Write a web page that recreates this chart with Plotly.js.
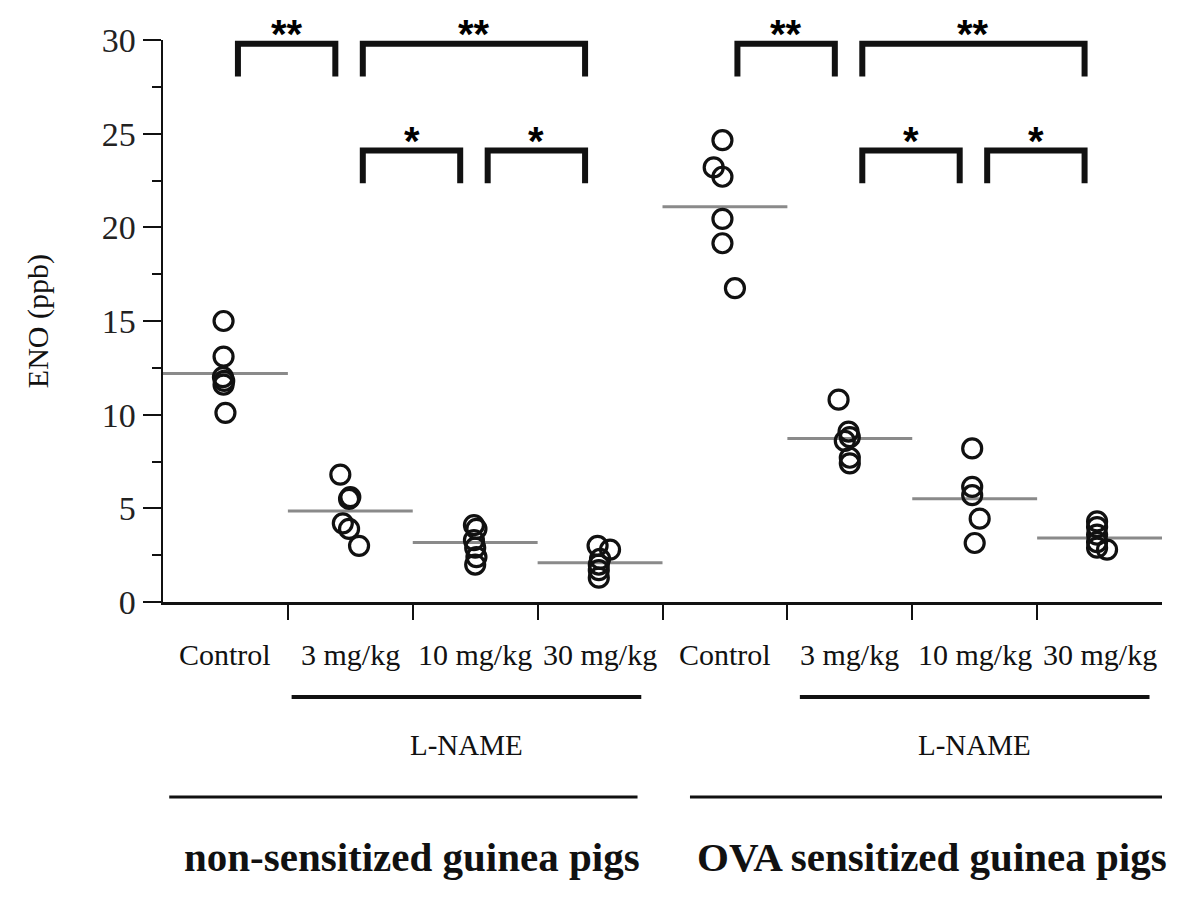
<!DOCTYPE html>
<html>
<head>
<meta charset="utf-8">
<script src="https://cdn.plot.ly/plotly-3.0.1.min.js"></script>
<style>html,body{margin:0;padding:0;background:#fff;}#chart{width:1200px;height:899px;}</style>
</head>
<body>
<div id="chart"></div>
<script>
// ---- categories / tick labels ----
const categories = ['Control', '3 mg/kg', '10 mg/kg', '30 mg/kg', 'Control', '3 mg/kg', '10 mg/kg', '30 mg/kg'];
const groupLabels = ['non-sensitized guinea pigs', 'OVA sensitized guinea pigs'];
const treatmentLabel = 'L-NAME';
const yTicks = [0, 5, 10, 15, 20, 25, 30];

// ---- individual ENO values (ppb) ----
const nsControl = [15.0, 13.1, 12.0, 11.8, 11.6, 10.1];
const ns3 = [6.8, 5.6, 5.5, 4.2, 3.9, 3.0];
const ns10 = [4.1, 3.9, 3.3, 2.9, 2.4, 2.0];
const ns30 = [3.0, 2.8, 2.3, 2.0, 1.7, 1.3];
const ovaControl = [24.65, 23.2, 22.7, 20.45, 19.15, 16.75];
const ova3 = [10.8, 9.1, 8.8, 8.6, 7.7, 7.4];
const ova10 = [8.2, 6.15, 5.7, 4.45, 3.15];
const ova30 = [4.3, 4.0, 3.6, 3.2, 2.9, 2.8];

// horizontal scatter of each point within its column (category units)
const nsControlJit = [-0.015, -0.015, -0.02, -0.01, -0.015, 0.0];
const ns3Jit = [-0.08, 0.0, -0.01, -0.06, -0.01, 0.07];
const ns10Jit = [-0.01, 0.01, -0.01, 0.0, 0.01, 0.0];
const ns30Jit = [-0.02, 0.08, 0.0, -0.01, -0.01, -0.01];
const ovaControlJit = [-0.02, -0.09, -0.02, -0.02, -0.02, 0.08];
const ova3Jit = [-0.09, -0.01, 0.0, -0.04, 0.0, 0.0];
const ova10Jit = [-0.02, -0.02, -0.02, 0.04, 0.0];
const ova30Jit = [-0.02, -0.02, -0.02, -0.02, -0.02, 0.06];

// group means (grey bars)
const means = [12.2, 4.86, 3.18, 2.1, 21.1, 8.73, 5.51, 3.41];

// significance comparisons
const compFrom = [0, 1, 1, 2, 4, 5, 5, 6];
const compTo = [1, 3, 2, 3, 5, 7, 6, 7];
const compLabel = ['**', '**', '*', '*', '**', '**', '*', '*'];
const compLevel = [1, 1, 0, 0, 1, 1, 0, 0];

// ---- build traces ----
const groups = [nsControl, ns3, ns10, ns30, ovaControl, ova3, ova10, ova30];
const jitters = [nsControlJit, ns3Jit, ns10Jit, ns30Jit, ovaControlJit, ova3Jit, ova10Jit, ova30Jit];

const px = [], py = [];
groups.forEach((vals, i) => {
  vals.forEach((v, k) => { px.push(i + jitters[i][k]); py.push(v); });
});

const mx = [], my = [];
means.forEach((m, i) => { mx.push(i - 0.5, i + 0.5, null); my.push(m, m, null); });

const traces = [
  {x: mx, y: my, type: 'scatter', mode: 'lines', line: {color: '#8a8a8a', width: 3}, hoverinfo: 'skip', cliponaxis: false},
  {x: px, y: py, type: 'scatter', mode: 'markers',
   marker: {symbol: 'circle-open', size: 19, color: '#111', line: {color: '#111', width: 3.2}}, cliponaxis: false}
];

// ---- decorations ----
const serif = 'Liberation Serif, Times New Roman, serif';
const shapes = [];
const annotations = [];
const levelTop = [24.1, 29.8];
const legLen = 1.75;
for (let c = 0; c < compFrom.length; c++) {
  const x0 = compFrom[c] + 0.1, x1 = compTo[c] - 0.12;
  const yt = levelTop[compLevel[c]], yb = yt - legLen;
  shapes.push({type: 'path', xref: 'x', yref: 'y',
    path: `M ${x0},${yb} L ${x0},${yt} L ${x1},${yt} L ${x1},${yb}`,
    line: {color: '#111', width: 6}});
  annotations.push({x: (x0 + x1) / 2, y: yt, xref: 'x', yref: 'y', text: '<b>' + compLabel[c] + '</b>',
    showarrow: false, yanchor: 'bottom', yshift: -14,
    font: {family: 'Liberation Sans, Arial, sans-serif', size: 40, color: '#000'}});
}

// category labels
categories.forEach((c, i) => {
  annotations.push({x: i, y: -0.094, xref: 'x', yref: 'paper', text: c, showarrow: false,
    yanchor: 'middle', font: {family: serif, size: 30, color: '#111'}});
});

// L-NAME lines & labels
const lnameSpans = [[0.53, 3.33], [4.6, 7.4]];
lnameSpans.forEach(s => {
  shapes.push({type: 'line', xref: 'x', yref: 'paper', x0: s[0], x1: s[1], y0: -0.169, y1: -0.169,
    line: {color: '#111', width: 4}});
  annotations.push({x: (s[0] + s[1]) / 2, y: -0.2544, xref: 'x', yref: 'paper', text: treatmentLabel,
    showarrow: false, yanchor: 'middle', font: {family: serif, size: 29, color: '#111'}});
});

// group lines & titles
const groupSpans = [[-0.45, 3.3], [3.72, 7.5]];
const groupTitleX = [1.49, 5.66];
groupSpans.forEach((s, g) => {
  shapes.push({type: 'line', xref: 'x', yref: 'paper', x0: s[0], x1: s[1], y0: -0.347, y1: -0.347,
    line: {color: '#111', width: 3}});
  annotations.push({x: groupTitleX[g], y: -0.4537, xref: 'x', yref: 'paper', text: '<b>' + groupLabels[g] + '</b>',
    showarrow: false, yanchor: 'middle', font: {family: serif, size: 41, color: '#111'}});
});

// y axis title
annotations.push({x: -0.125, y: 0.5, xref: 'paper', yref: 'paper', text: 'ENO (ppb)', textangle: -90,
  showarrow: false, xanchor: 'center', yanchor: 'middle', font: {family: serif, size: 30, color: '#111'}});

const layout = {
  width: 1200, height: 899,
  margin: {l: 163, r: 38, t: 40, b: 297},
  paper_bgcolor: '#fff', plot_bgcolor: '#fff',
  showlegend: false,
  xaxis: {range: [-0.5, 7.5], showgrid: false, zeroline: false, showline: true, linecolor: '#111', linewidth: 2.5,
    tickvals: [0.5, 1.5, 2.5, 3.5, 4.5, 5.5, 6.5], ticks: 'outside', ticklen: 15, tickwidth: 2, tickcolor: '#111',
    showticklabels: false, fixedrange: true},
  yaxis: {range: [0, 30], showgrid: false, zeroline: false, showline: true, linecolor: '#111', linewidth: 2.5,
    tickvals: yTicks, ticktext: yTicks.map(String), ticks: 'outside', ticklen: 18, tickwidth: 2, tickcolor: '#111',
    tickfont: {family: serif, size: 34, color: '#222'},
    minor: {tickvals: [2.5, 7.5, 12.5, 17.5, 22.5, 27.5], ticks: 'outside', ticklen: 9, tickwidth: 2, tickcolor: '#111'},
    fixedrange: true},
  shapes: shapes,
  annotations: annotations
};

Plotly.newPlot('chart', traces, layout, {displayModeBar: false, staticPlot: true});
</script>
</body>
</html>
